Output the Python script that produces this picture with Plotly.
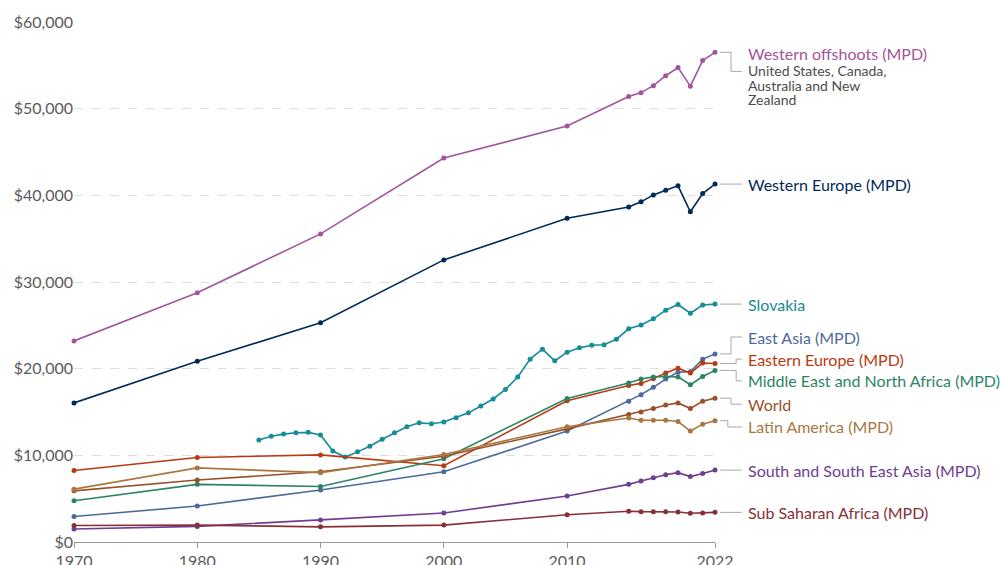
import plotly.graph_objects as go

# GDP per capita
years_mpd = [1970, 1980, 1990, 2000, 2010, 2015, 2016, 2017, 2018, 2019, 2020, 2021, 2022]
years_slovakia = list(range(1985, 2023))

western_offshoots = [23200, 28750, 35550, 44300, 48000, 51400, 51850, 52650, 53800, 54750, 52600, 55550, 56500]
western_europe = [16050, 20850, 25300, 32550, 37350, 38650, 39250, 40050, 40600, 41100, 38100, 40200, 41300]
slovakia = [11770, 12200, 12450, 12600, 12650, 12350, 10500, 9800, 10400, 11050,
            11850, 12600, 13300, 13750, 13650, 13850, 14350, 14900, 15700, 16500,
            17600, 19050, 21100, 22250, 20900, 21900, 22400, 22700, 22750, 23400,
            24600, 25050, 25750, 26750, 27400, 26400, 27350, 27450]
east_asia = [2950, 4150, 6000, 8100, 12800, 16250, 17000, 17850, 18800, 19600, 19650, 21100, 21700]
eastern_europe = [8250, 9750, 10050, 8800, 16300, 18050, 18300, 18850, 19500, 20050, 19500, 20650, 20600]
middle_east_na = [4750, 6650, 6400, 9600, 16550, 18350, 18800, 19050, 19100, 19050, 18150, 19100, 19800]
world = [5900, 7150, 8100, 9900, 13050, 14700, 15000, 15400, 15800, 16050, 15400, 16250, 16600]
latin_america = [6100, 8550, 8000, 10100, 13300, 14300, 14050, 14050, 14050, 13900, 12800, 13600, 14000]
south_se_asia = [1500, 1800, 2550, 3350, 5300, 6650, 7050, 7400, 7750, 8000, 7550, 7900, 8300]
sub_saharan = [1900, 1950, 1750, 1950, 3150, 3550, 3500, 3480, 3480, 3470, 3320, 3340, 3420]

x_ticks = [1970, 1980, 1990, 2000, 2010, 2022]
y_ticks = [0, 10000, 20000, 30000, 40000, 50000, 60000]
y_max = 60000
offshoots_note = ["United States, Canada,", "Australia and New", "Zealand"]

# name, x, y, colour, label y (value units), elbow x (paper)
series = [
    ("Western offshoots (MPD)", years_mpd, western_offshoots, "#A2559C", 56400, 1.025),
    ("Western Europe (MPD)", years_mpd, western_europe, "#00295B", 41200, 1.025),
    ("Slovakia", years_slovakia, slovakia, "#168C96", 27450, 1.025),
    ("East Asia (MPD)", years_mpd, east_asia, "#4C6A9C", 23650, 1.025),
    ("Eastern Europe (MPD)", years_mpd, eastern_europe, "#B83A14", 21100, 1.033),
    ("Middle East and North Africa (MPD)", years_mpd, middle_east_na, "#2C8465", 18600, 1.033),
    ("World", years_mpd, world, "#9A5129", 15900, 1.025),
    ("Latin America (MPD)", years_mpd, latin_america, "#A8773F", 13270, 1.020),
    ("South and South East Asia (MPD)", years_mpd, south_se_asia, "#6D3E91", 8300, 1.025),
    ("Sub Saharan Africa (MPD)", years_mpd, sub_saharan, "#883039", 3430, 1.025),
]

fig = go.Figure()

for name, xs, ys, color, _, _ in series:
    fig.add_trace(go.Scatter(x=xs, y=ys, name=name, mode="lines+markers",
                             line=dict(color=color, width=1.6),
                             marker=dict(color=color, size=5),
                             cliponaxis=False, showlegend=False))

shapes = []
annotations = []
x_start, x_end, x_text = 1.008, 1.042, 1.049
for name, xs, ys, color, label_y, elbow in series:
    y0 = ys[-1] / y_max
    y1 = label_y / y_max
    if name.startswith("Western offshoots"):
        y1 = 54300 / y_max  # connector points at the description lines
    if abs(y1 - y0) < 0.004:
        path = f"M {x_start} {y0} L {x_end} {y0}"
    else:
        path = f"M {x_start} {y0} L {elbow} {y0} L {elbow} {y1} L {x_end} {y1}"
    shapes.append(dict(type="path", path=path, xref="paper", yref="paper",
                       line=dict(color="#a8a8a8", width=1)))
    annotations.append(dict(x=x_text, y=label_y, xref="paper", yref="y", text=name,
                            showarrow=False, xanchor="left", yanchor="middle",
                            font=dict(family="Lato", size=16, color=color)))

for i, line in enumerate(offshoots_note):
    annotations.append(dict(x=x_text, y=54400 - i * 1670, xref="paper", yref="y", text=line,
                            showarrow=False, xanchor="left", yanchor="middle",
                            font=dict(family="Lato", size=14, color="#4d4d4d")))

fig.update_layout(width=1000, height=565, plot_bgcolor="white", paper_bgcolor="white",
                  margin=dict(l=74, r=285, t=22, b=23),
                  font=dict(family="Lato", size=16, color="#5b5b5b"),
                  shapes=shapes, annotations=annotations, hovermode="x")

fig.update_xaxes(range=[1970, 2022], tickvals=x_ticks, showgrid=False, zeroline=False,
                 showline=True, linecolor="#999999", linewidth=1, automargin=False,
                 ticks="outside", ticklen=5, tickcolor="#999999",
                 tickfont=dict(size=16, color="#5b5b5b"))
fig.update_yaxes(range=[0, y_max], tickvals=y_ticks,
                 ticktext=["$" + f"{v:,}" for v in y_ticks],
                 showgrid=True, gridcolor="#dddddd", automargin=False,
                 griddash="dash", zeroline=False, ticks="",
                 tickfont=dict(size=16, color="#5b5b5b"))

# page body has a default 8px margin; drop it so the figure sits at the window corner
fig.write_html("out.html", config={"displayModeBar": False},
               post_script="document.body.style.margin = '0px';")
